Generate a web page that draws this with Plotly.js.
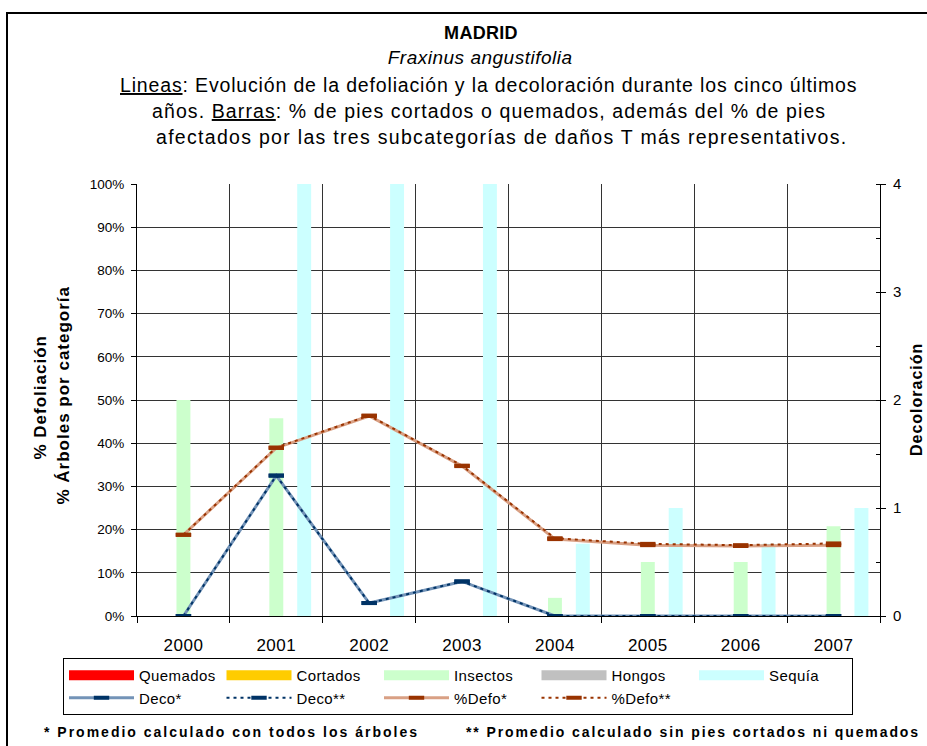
<!DOCTYPE html>
<html>
<head>
<meta charset="utf-8">
<script src="https://cdn.plot.ly/plotly-3.0.1.min.js"></script>
<style>
  html, body { margin: 0; padding: 0; background: #fff; }
  #chart { width: 927px; height: 746px; }
  .annotation[data-index="0"] text { letter-spacing: 0.3px; }
  .annotation[data-index="1"] text { letter-spacing: 0.5px; }
  .annotation[data-index="2"] text { letter-spacing: 0.84px; }
  .annotation[data-index="3"] text { letter-spacing: 1.1px; }
  .annotation[data-index="4"] text { letter-spacing: 1.3px; }
  .annotation[data-index="5"] text,
  .annotation[data-index="6"] text,
  .annotation[data-index="7"] text { letter-spacing: 1px; }
  .annotation[data-index="8"] text { letter-spacing: 2px; }
  .annotation[data-index="9"] text { letter-spacing: 1.9px; }
  .legendtext { letter-spacing: 0.4px; }
  .xtick text { letter-spacing: 0.5px; }
</style>
</head>
<body>
<div id="chart"></div>
<script>
// ---- data ----
var years = ['2000', '2001', '2002', '2003', '2004', '2005', '2006', '2007'];

// bars: % of trees per category (left axis)
var quemados = [0, 0, 0, 0, 0, 0, 0, 0];
var cortados = [0, 0, 0, 0, 0, 0, 0, 0];
var insectos = [50, 45.8, 0, 0, 4.2, 12.5, 12.5, 20.8];
var hongos   = [0, 0, 0, 0, 0, 0, 0, 0];
var sequia   = [0, 100, 100, 100, 16.7, 25, 16.7, 25];

// lines: defoliation % (left axis)
var defo1 = [18.8, 38.9, 46.3, 34.7, 17.8, 16.4, 16.2, 16.4];
var defo2 = [18.8, 39.0, 46.4, 34.8, 18.0, 16.7, 16.4, 16.8];
// lines: decoloration (right axis, 0-4)
var deco1 = [0, 1.30, 0.12, 0.32, 0, 0, 0, 0];
var deco2 = [0, 1.30, 0.12, 0.32, 0, 0, 0, 0];

var barNames  = ['Quemados', 'Cortados', 'Insectos', 'Hongos', 'Sequía'];
var barValues = [quemados, cortados, insectos, hongos, sequia];
var barColors = ['#FF0000', '#FFCC00', '#CCFFCC', '#C0C0C0', '#CCFFFF'];

var FONT = 'Liberation Sans, Arial, sans-serif';

var traces = [];
// bar series (legend shown through wide swatch entries below)
for (var i = 0; i < barNames.length; i++) {
  traces.push({
    type: 'bar', x: years, y: barValues[i], name: barNames[i],
    marker: { color: barColors[i], line: { width: 0 } },
    legendgroup: barNames[i], showlegend: false, yaxis: 'y'
  });
}
// legend swatches for the bar series
for (var j = 0; j < barNames.length; j++) {
  traces.push({
    type: 'scatter', mode: 'lines', x: [null], y: [null], name: barNames[j],
    line: { color: barColors[j], width: 10 },
    legendgroup: barNames[j], showlegend: true, hoverinfo: 'skip'
  });
}
var decoMarker = { symbol: 'line-ew', size: 11, color: '#003366', line: { width: 4, color: '#003366' } };
var defoMarker = { symbol: 'line-ew', size: 11, color: '#993300', line: { width: 4, color: '#993300' } };

traces.push({
  type: 'scatter', mode: 'lines+markers', x: years, y: deco1, name: 'Deco*', yaxis: 'y2',
  line: { color: '#7393B7', width: 3 }, marker: decoMarker
});
traces.push({
  type: 'scatter', mode: 'lines+markers', x: years, y: deco2, name: 'Deco**', yaxis: 'y2',
  line: { color: '#003366', width: 2, dash: '3px,4px' }, marker: decoMarker
});
traces.push({
  type: 'scatter', mode: 'lines+markers', x: years, y: defo1, name: '%Defo*', yaxis: 'y',
  line: { color: '#D9A084', width: 3 }, marker: defoMarker
});
traces.push({
  type: 'scatter', mode: 'lines+markers', x: years, y: defo2, name: '%Defo**', yaxis: 'y',
  line: { color: '#993300', width: 2, dash: '3px,4px' }, marker: defoMarker
});

// pixel helpers for annotation placement (plot area 137..880 x 184..616)
function px(x) { return (x - 137) / 743; }
function py(y) { return (616 - y) / 432; }

function note(text, x, y, size, anchor, angle) {
  return {
    text: text, x: px(x), y: py(y), xref: 'paper', yref: 'paper',
    xanchor: anchor, yanchor: 'middle', align: anchor === 'left' ? 'left' : 'center',
    showarrow: false, textangle: angle || 0,
    font: { family: FONT, size: size, color: '#000' }
  };
}

var annotations = [
  note('<b>MADRID</b>', 481, 33, 18, 'center'),
  note('<i>Fraxinus angustifolia</i>', 480, 58, 19, 'center'),
  note('<span style="text-decoration:underline">Lineas</span>: Evolución de la defoliación y la decoloración durante los cinco últimos', 118, 85, 19.5, 'left'),
  note('años. <span style="text-decoration:underline">Barras</span>: % de pies cortados o quemados, además del % de pies', 150, 111, 19.5, 'left'),
  note('afectados por las tres subcategorías de daños T más representativos.', 154, 137, 19.5, 'left'),
  note('<b>% Defoliación</b>', 40, 398, 17, 'center', -90),
  note('<b>% Árboles por categoría</b>', 63, 395, 17, 'center', -90),
  note('<b>Decoloración</b>', 916, 400, 16, 'center', -90),
  note('<b>* Promedio calculado con todos los árboles</b>', 42, 732, 14, 'left'),
  note('<b>** Promedio calculado sin pies cortados ni quemados</b>', 464, 732, 14, 'left')
];

var layout = {
  width: 927, height: 746,
  margin: { l: 137, r: 47, t: 184, b: 130, pad: 0 },
  paper_bgcolor: '#fff', plot_bgcolor: '#fff',
  font: { family: FONT, color: '#000' },
  barmode: 'group', bargap: 0.25, bargroupgap: 0,
  showlegend: true,
  legend: {
    orientation: 'h', xref: 'paper', yref: 'paper',
    x: px(63), y: py(658), xanchor: 'left', yanchor: 'top',
    bgcolor: '#fff', bordercolor: '#000', borderwidth: 1,
    font: { family: FONT, size: 15, color: '#000' },
    itemwidth: 65, entrywidth: 77.5, entrywidthmode: 'pixels',
    traceorder: 'normal', tracegroupgap: 0, itemclick: false, itemdoubleclick: false
  },
  xaxis: {
    type: 'category', categoryorder: 'array', categoryarray: years,
    tickson: 'boundaries', showgrid: true, gridcolor: '#333', gridwidth: 1,
    showline: true, linecolor: '#000', linewidth: 1,
    ticks: 'outside', ticklen: 6, tickcolor: '#000',
    tickfont: { family: FONT, size: 17, color: '#000' }, ticklabelstandoff: 14,
    zeroline: false, fixedrange: true
  },
  yaxis: {
    range: [0, 100], dtick: 10, ticksuffix: '%',
    showgrid: true, gridcolor: '#333', gridwidth: 1,
    showline: true, linecolor: '#000', linewidth: 1,
    ticks: 'outside', ticklen: 5, tickcolor: '#000',
    tickfont: { family: FONT, size: 13.5, color: '#000' }, ticklabelstandoff: 4,
    zeroline: false, fixedrange: true
  },
  yaxis2: {
    overlaying: 'y', side: 'right', range: [0, 4], dtick: 1,
    showgrid: false, showline: true, linecolor: '#000', linewidth: 1,
    ticks: 'outside', ticklen: 5, tickcolor: '#000',
    minor: { dtick: 0.5, ticks: 'inside', ticklen: 4, tickcolor: '#000' },
    tickfont: { family: FONT, size: 15, color: '#000' }, ticklabelstandoff: 4,
    zeroline: false, fixedrange: true
  },
  annotations: annotations,
  shapes: [{
    type: 'rect', xref: 'paper', yref: 'paper',
    x0: px(7), x1: px(945), y0: py(760), y1: py(13),
    line: { color: '#000', width: 2 }, fillcolor: 'rgba(0,0,0,0)', layer: 'above'
  }]
};

Plotly.newPlot('chart', traces, layout, { displayModeBar: false, staticPlot: true });
</script>
</body>
</html>
